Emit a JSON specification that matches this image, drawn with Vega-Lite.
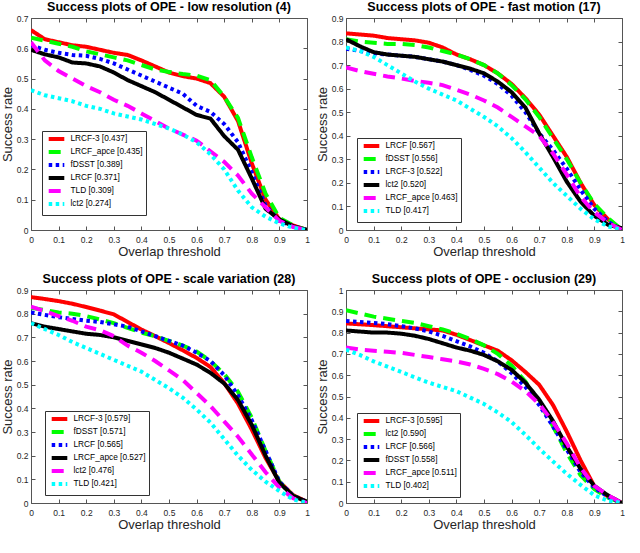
{
"$schema": "https://vega.github.io/schema/vega-lite/v6.json",
"padding": {"left": 0, "top": 0, "right": 0, "bottom": 0},
"columns": 2,
"spacing": {"row": 13, "column": 5},
"datasets": {
"p1": [
{"s":"LRCF-3 [0.437]","x":0,"y":0.66},{"s":"LRCF-3 [0.437]","x":0.05,"y":0.63},{"s":"LRCF-3 [0.437]","x":0.1,"y":0.62},{"s":"LRCF-3 [0.437]","x":0.15,"y":0.61},{"s":"LRCF-3 [0.437]","x":0.2,"y":0.605},{"s":"LRCF-3 [0.437]","x":0.25,"y":0.595},{"s":"LRCF-3 [0.437]","x":0.3,"y":0.585},{"s":"LRCF-3 [0.437]","x":0.35,"y":0.578},{"s":"LRCF-3 [0.437]","x":0.4,"y":0.56},{"s":"LRCF-3 [0.437]","x":0.45,"y":0.54},{"s":"LRCF-3 [0.437]","x":0.5,"y":0.52},{"s":"LRCF-3 [0.437]","x":0.55,"y":0.508},{"s":"LRCF-3 [0.437]","x":0.6,"y":0.5},{"s":"LRCF-3 [0.437]","x":0.65,"y":0.485},{"s":"LRCF-3 [0.437]","x":0.7,"y":0.44},{"s":"LRCF-3 [0.437]","x":0.75,"y":0.36},{"s":"LRCF-3 [0.437]","x":0.8,"y":0.22},{"s":"LRCF-3 [0.437]","x":0.85,"y":0.1},{"s":"LRCF-3 [0.437]","x":0.9,"y":0.035},{"s":"LRCF-3 [0.437]","x":0.95,"y":0.015},{"s":"LRCF-3 [0.437]","x":1,"y":0},
{"s":"LRCF_apce [0.435]","x":0,"y":0.635},{"s":"LRCF_apce [0.435]","x":0.05,"y":0.625},{"s":"LRCF_apce [0.435]","x":0.1,"y":0.615},{"s":"LRCF_apce [0.435]","x":0.15,"y":0.605},{"s":"LRCF_apce [0.435]","x":0.2,"y":0.59},{"s":"LRCF_apce [0.435]","x":0.25,"y":0.58},{"s":"LRCF_apce [0.435]","x":0.3,"y":0.57},{"s":"LRCF_apce [0.435]","x":0.35,"y":0.56},{"s":"LRCF_apce [0.435]","x":0.4,"y":0.545},{"s":"LRCF_apce [0.435]","x":0.45,"y":0.53},{"s":"LRCF_apce [0.435]","x":0.5,"y":0.522},{"s":"LRCF_apce [0.435]","x":0.55,"y":0.515},{"s":"LRCF_apce [0.435]","x":0.6,"y":0.51},{"s":"LRCF_apce [0.435]","x":0.65,"y":0.495},{"s":"LRCF_apce [0.435]","x":0.7,"y":0.44},{"s":"LRCF_apce [0.435]","x":0.75,"y":0.37},{"s":"LRCF_apce [0.435]","x":0.8,"y":0.24},{"s":"LRCF_apce [0.435]","x":0.85,"y":0.12},{"s":"LRCF_apce [0.435]","x":0.9,"y":0.04},{"s":"LRCF_apce [0.435]","x":0.95,"y":0.015},{"s":"LRCF_apce [0.435]","x":1,"y":0},
{"s":"fDSST [0.389]","x":0,"y":0.61},{"s":"fDSST [0.389]","x":0.05,"y":0.595},{"s":"fDSST [0.389]","x":0.1,"y":0.585},{"s":"fDSST [0.389]","x":0.15,"y":0.578},{"s":"fDSST [0.389]","x":0.2,"y":0.575},{"s":"fDSST [0.389]","x":0.25,"y":0.565},{"s":"fDSST [0.389]","x":0.3,"y":0.55},{"s":"fDSST [0.389]","x":0.35,"y":0.53},{"s":"fDSST [0.389]","x":0.4,"y":0.51},{"s":"fDSST [0.389]","x":0.45,"y":0.49},{"s":"fDSST [0.389]","x":0.5,"y":0.47},{"s":"fDSST [0.389]","x":0.55,"y":0.45},{"s":"fDSST [0.389]","x":0.6,"y":0.41},{"s":"fDSST [0.389]","x":0.65,"y":0.39},{"s":"fDSST [0.389]","x":0.7,"y":0.35},{"s":"fDSST [0.389]","x":0.75,"y":0.29},{"s":"fDSST [0.389]","x":0.8,"y":0.19},{"s":"fDSST [0.389]","x":0.85,"y":0.08},{"s":"fDSST [0.389]","x":0.9,"y":0.03},{"s":"fDSST [0.389]","x":0.95,"y":0.012},{"s":"fDSST [0.389]","x":1,"y":0},
{"s":"LRCF [0.371]","x":0,"y":0.595},{"s":"LRCF [0.371]","x":0.05,"y":0.58},{"s":"LRCF [0.371]","x":0.1,"y":0.57},{"s":"LRCF [0.371]","x":0.15,"y":0.553},{"s":"LRCF [0.371]","x":0.2,"y":0.55},{"s":"LRCF [0.371]","x":0.25,"y":0.54},{"s":"LRCF [0.371]","x":0.3,"y":0.52},{"s":"LRCF [0.371]","x":0.35,"y":0.495},{"s":"LRCF [0.371]","x":0.4,"y":0.475},{"s":"LRCF [0.371]","x":0.45,"y":0.455},{"s":"LRCF [0.371]","x":0.5,"y":0.43},{"s":"LRCF [0.371]","x":0.55,"y":0.405},{"s":"LRCF [0.371]","x":0.6,"y":0.38},{"s":"LRCF [0.371]","x":0.65,"y":0.368},{"s":"LRCF [0.371]","x":0.7,"y":0.31},{"s":"LRCF [0.371]","x":0.75,"y":0.265},{"s":"LRCF [0.371]","x":0.8,"y":0.17},{"s":"LRCF [0.371]","x":0.85,"y":0.07},{"s":"LRCF [0.371]","x":0.9,"y":0.035},{"s":"LRCF [0.371]","x":0.95,"y":0.012},{"s":"LRCF [0.371]","x":1,"y":0},
{"s":"TLD [0.309]","x":0,"y":0.62},{"s":"TLD [0.309]","x":0.05,"y":0.56},{"s":"TLD [0.309]","x":0.1,"y":0.525},{"s":"TLD [0.309]","x":0.15,"y":0.5},{"s":"TLD [0.309]","x":0.2,"y":0.475},{"s":"TLD [0.309]","x":0.25,"y":0.455},{"s":"TLD [0.309]","x":0.3,"y":0.43},{"s":"TLD [0.309]","x":0.35,"y":0.41},{"s":"TLD [0.309]","x":0.4,"y":0.385},{"s":"TLD [0.309]","x":0.45,"y":0.36},{"s":"TLD [0.309]","x":0.5,"y":0.335},{"s":"TLD [0.309]","x":0.55,"y":0.315},{"s":"TLD [0.309]","x":0.6,"y":0.295},{"s":"TLD [0.309]","x":0.65,"y":0.26},{"s":"TLD [0.309]","x":0.7,"y":0.225},{"s":"TLD [0.309]","x":0.75,"y":0.18},{"s":"TLD [0.309]","x":0.8,"y":0.12},{"s":"TLD [0.309]","x":0.85,"y":0.075},{"s":"TLD [0.309]","x":0.9,"y":0.03},{"s":"TLD [0.309]","x":0.95,"y":0.01},{"s":"TLD [0.309]","x":1,"y":0},
{"s":"lct2 [0.274]","x":0,"y":0.462},{"s":"lct2 [0.274]","x":0.05,"y":0.445},{"s":"lct2 [0.274]","x":0.1,"y":0.435},{"s":"lct2 [0.274]","x":0.15,"y":0.425},{"s":"lct2 [0.274]","x":0.2,"y":0.41},{"s":"lct2 [0.274]","x":0.25,"y":0.4},{"s":"lct2 [0.274]","x":0.3,"y":0.385},{"s":"lct2 [0.274]","x":0.35,"y":0.375},{"s":"lct2 [0.274]","x":0.4,"y":0.365},{"s":"lct2 [0.274]","x":0.45,"y":0.35},{"s":"lct2 [0.274]","x":0.5,"y":0.335},{"s":"lct2 [0.274]","x":0.55,"y":0.315},{"s":"lct2 [0.274]","x":0.6,"y":0.29},{"s":"lct2 [0.274]","x":0.65,"y":0.25},{"s":"lct2 [0.274]","x":0.7,"y":0.2},{"s":"lct2 [0.274]","x":0.75,"y":0.13},{"s":"lct2 [0.274]","x":0.8,"y":0.075},{"s":"lct2 [0.274]","x":0.85,"y":0.044},{"s":"lct2 [0.274]","x":0.9,"y":0.022},{"s":"lct2 [0.274]","x":0.95,"y":0.007},{"s":"lct2 [0.274]","x":1,"y":0}
],
"p2": [
{"s":"LRCF [0.567]","x":0,"y":0.835},{"s":"LRCF [0.567]","x":0.05,"y":0.83},{"s":"LRCF [0.567]","x":0.1,"y":0.825},{"s":"LRCF [0.567]","x":0.15,"y":0.815},{"s":"LRCF [0.567]","x":0.2,"y":0.81},{"s":"LRCF [0.567]","x":0.25,"y":0.805},{"s":"LRCF [0.567]","x":0.3,"y":0.795},{"s":"LRCF [0.567]","x":0.35,"y":0.775},{"s":"LRCF [0.567]","x":0.4,"y":0.745},{"s":"LRCF [0.567]","x":0.45,"y":0.725},{"s":"LRCF [0.567]","x":0.5,"y":0.7},{"s":"LRCF [0.567]","x":0.55,"y":0.665},{"s":"LRCF [0.567]","x":0.6,"y":0.62},{"s":"LRCF [0.567]","x":0.65,"y":0.56},{"s":"LRCF [0.567]","x":0.7,"y":0.49},{"s":"LRCF [0.567]","x":0.75,"y":0.4},{"s":"LRCF [0.567]","x":0.8,"y":0.31},{"s":"LRCF [0.567]","x":0.85,"y":0.2},{"s":"LRCF [0.567]","x":0.9,"y":0.105},{"s":"LRCF [0.567]","x":0.95,"y":0.045},{"s":"LRCF [0.567]","x":1,"y":0},
{"s":"fDSST [0.556]","x":0,"y":0.81},{"s":"fDSST [0.556]","x":0.05,"y":0.8},{"s":"fDSST [0.556]","x":0.1,"y":0.795},{"s":"fDSST [0.556]","x":0.15,"y":0.79},{"s":"fDSST [0.556]","x":0.2,"y":0.79},{"s":"fDSST [0.556]","x":0.25,"y":0.785},{"s":"fDSST [0.556]","x":0.3,"y":0.775},{"s":"fDSST [0.556]","x":0.35,"y":0.76},{"s":"fDSST [0.556]","x":0.4,"y":0.745},{"s":"fDSST [0.556]","x":0.45,"y":0.725},{"s":"fDSST [0.556]","x":0.5,"y":0.7},{"s":"fDSST [0.556]","x":0.55,"y":0.665},{"s":"fDSST [0.556]","x":0.6,"y":0.615},{"s":"fDSST [0.556]","x":0.65,"y":0.555},{"s":"fDSST [0.556]","x":0.7,"y":0.48},{"s":"fDSST [0.556]","x":0.75,"y":0.39},{"s":"fDSST [0.556]","x":0.8,"y":0.3},{"s":"fDSST [0.556]","x":0.85,"y":0.2},{"s":"fDSST [0.556]","x":0.9,"y":0.11},{"s":"fDSST [0.556]","x":0.95,"y":0.05},{"s":"fDSST [0.556]","x":1,"y":0},
{"s":"LRCF-3 [0.522]","x":0,"y":0.77},{"s":"LRCF-3 [0.522]","x":0.05,"y":0.76},{"s":"LRCF-3 [0.522]","x":0.1,"y":0.75},{"s":"LRCF-3 [0.522]","x":0.15,"y":0.745},{"s":"LRCF-3 [0.522]","x":0.2,"y":0.74},{"s":"LRCF-3 [0.522]","x":0.25,"y":0.735},{"s":"LRCF-3 [0.522]","x":0.3,"y":0.725},{"s":"LRCF-3 [0.522]","x":0.35,"y":0.715},{"s":"LRCF-3 [0.522]","x":0.4,"y":0.7},{"s":"LRCF-3 [0.522]","x":0.45,"y":0.68},{"s":"LRCF-3 [0.522]","x":0.5,"y":0.655},{"s":"LRCF-3 [0.522]","x":0.55,"y":0.62},{"s":"LRCF-3 [0.522]","x":0.6,"y":0.57},{"s":"LRCF-3 [0.522]","x":0.65,"y":0.5},{"s":"LRCF-3 [0.522]","x":0.7,"y":0.41},{"s":"LRCF-3 [0.522]","x":0.75,"y":0.34},{"s":"LRCF-3 [0.522]","x":0.8,"y":0.26},{"s":"LRCF-3 [0.522]","x":0.85,"y":0.17},{"s":"LRCF-3 [0.522]","x":0.9,"y":0.09},{"s":"LRCF-3 [0.522]","x":0.95,"y":0.035},{"s":"LRCF-3 [0.522]","x":1,"y":0},
{"s":"lct2 [0.520]","x":0,"y":0.81},{"s":"lct2 [0.520]","x":0.05,"y":0.78},{"s":"lct2 [0.520]","x":0.1,"y":0.755},{"s":"lct2 [0.520]","x":0.15,"y":0.745},{"s":"lct2 [0.520]","x":0.2,"y":0.74},{"s":"lct2 [0.520]","x":0.25,"y":0.735},{"s":"lct2 [0.520]","x":0.3,"y":0.725},{"s":"lct2 [0.520]","x":0.35,"y":0.715},{"s":"lct2 [0.520]","x":0.4,"y":0.7},{"s":"lct2 [0.520]","x":0.45,"y":0.685},{"s":"lct2 [0.520]","x":0.5,"y":0.665},{"s":"lct2 [0.520]","x":0.55,"y":0.63},{"s":"lct2 [0.520]","x":0.6,"y":0.585},{"s":"lct2 [0.520]","x":0.65,"y":0.52},{"s":"lct2 [0.520]","x":0.7,"y":0.41},{"s":"lct2 [0.520]","x":0.75,"y":0.31},{"s":"lct2 [0.520]","x":0.8,"y":0.205},{"s":"lct2 [0.520]","x":0.85,"y":0.12},{"s":"lct2 [0.520]","x":0.9,"y":0.06},{"s":"lct2 [0.520]","x":0.95,"y":0.022},{"s":"lct2 [0.520]","x":1,"y":0.008},
{"s":"LRCF_apce [0.463]","x":0,"y":0.69},{"s":"LRCF_apce [0.463]","x":0.05,"y":0.675},{"s":"LRCF_apce [0.463]","x":0.1,"y":0.663},{"s":"LRCF_apce [0.463]","x":0.15,"y":0.652},{"s":"LRCF_apce [0.463]","x":0.2,"y":0.643},{"s":"LRCF_apce [0.463]","x":0.25,"y":0.633},{"s":"LRCF_apce [0.463]","x":0.3,"y":0.625},{"s":"LRCF_apce [0.463]","x":0.35,"y":0.615},{"s":"LRCF_apce [0.463]","x":0.4,"y":0.595},{"s":"LRCF_apce [0.463]","x":0.45,"y":0.575},{"s":"LRCF_apce [0.463]","x":0.5,"y":0.55},{"s":"LRCF_apce [0.463]","x":0.55,"y":0.52},{"s":"LRCF_apce [0.463]","x":0.6,"y":0.48},{"s":"LRCF_apce [0.463]","x":0.65,"y":0.44},{"s":"LRCF_apce [0.463]","x":0.7,"y":0.4},{"s":"LRCF_apce [0.463]","x":0.75,"y":0.325},{"s":"LRCF_apce [0.463]","x":0.8,"y":0.235},{"s":"LRCF_apce [0.463]","x":0.85,"y":0.14},{"s":"LRCF_apce [0.463]","x":0.9,"y":0.075},{"s":"LRCF_apce [0.463]","x":0.95,"y":0.03},{"s":"LRCF_apce [0.463]","x":1,"y":0},
{"s":"TLD [0.417]","x":0,"y":0.775},{"s":"TLD [0.417]","x":0.05,"y":0.76},{"s":"TLD [0.417]","x":0.1,"y":0.735},{"s":"TLD [0.417]","x":0.15,"y":0.7},{"s":"TLD [0.417]","x":0.2,"y":0.665},{"s":"TLD [0.417]","x":0.25,"y":0.63},{"s":"TLD [0.417]","x":0.3,"y":0.6},{"s":"TLD [0.417]","x":0.35,"y":0.575},{"s":"TLD [0.417]","x":0.4,"y":0.55},{"s":"TLD [0.417]","x":0.45,"y":0.515},{"s":"TLD [0.417]","x":0.5,"y":0.48},{"s":"TLD [0.417]","x":0.55,"y":0.44},{"s":"TLD [0.417]","x":0.6,"y":0.39},{"s":"TLD [0.417]","x":0.65,"y":0.33},{"s":"TLD [0.417]","x":0.7,"y":0.265},{"s":"TLD [0.417]","x":0.75,"y":0.2},{"s":"TLD [0.417]","x":0.8,"y":0.145},{"s":"TLD [0.417]","x":0.85,"y":0.09},{"s":"TLD [0.417]","x":0.9,"y":0.045},{"s":"TLD [0.417]","x":0.95,"y":0.015},{"s":"TLD [0.417]","x":1,"y":0}
],
"p3": [
{"s":"LRCF-3 [0.579]","x":0,"y":0.87},{"s":"LRCF-3 [0.579]","x":0.05,"y":0.862},{"s":"LRCF-3 [0.579]","x":0.1,"y":0.853},{"s":"LRCF-3 [0.579]","x":0.15,"y":0.842},{"s":"LRCF-3 [0.579]","x":0.2,"y":0.828},{"s":"LRCF-3 [0.579]","x":0.25,"y":0.813},{"s":"LRCF-3 [0.579]","x":0.3,"y":0.797},{"s":"LRCF-3 [0.579]","x":0.35,"y":0.765},{"s":"LRCF-3 [0.579]","x":0.4,"y":0.733},{"s":"LRCF-3 [0.579]","x":0.45,"y":0.705},{"s":"LRCF-3 [0.579]","x":0.5,"y":0.676},{"s":"LRCF-3 [0.579]","x":0.55,"y":0.645},{"s":"LRCF-3 [0.579]","x":0.6,"y":0.613},{"s":"LRCF-3 [0.579]","x":0.65,"y":0.575},{"s":"LRCF-3 [0.579]","x":0.7,"y":0.507},{"s":"LRCF-3 [0.579]","x":0.75,"y":0.42},{"s":"LRCF-3 [0.579]","x":0.8,"y":0.31},{"s":"LRCF-3 [0.579]","x":0.85,"y":0.19},{"s":"LRCF-3 [0.579]","x":0.9,"y":0.09},{"s":"LRCF-3 [0.579]","x":0.95,"y":0.033},{"s":"LRCF-3 [0.579]","x":1,"y":0.005},
{"s":"fDSST [0.571]","x":0,"y":0.825},{"s":"fDSST [0.571]","x":0.05,"y":0.815},{"s":"fDSST [0.571]","x":0.1,"y":0.805},{"s":"fDSST [0.571]","x":0.15,"y":0.8},{"s":"fDSST [0.571]","x":0.2,"y":0.79},{"s":"fDSST [0.571]","x":0.25,"y":0.775},{"s":"fDSST [0.571]","x":0.3,"y":0.76},{"s":"fDSST [0.571]","x":0.35,"y":0.74},{"s":"fDSST [0.571]","x":0.4,"y":0.72},{"s":"fDSST [0.571]","x":0.45,"y":0.705},{"s":"fDSST [0.571]","x":0.5,"y":0.685},{"s":"fDSST [0.571]","x":0.55,"y":0.665},{"s":"fDSST [0.571]","x":0.6,"y":0.64},{"s":"fDSST [0.571]","x":0.65,"y":0.6},{"s":"fDSST [0.571]","x":0.7,"y":0.545},{"s":"fDSST [0.571]","x":0.75,"y":0.47},{"s":"fDSST [0.571]","x":0.8,"y":0.36},{"s":"fDSST [0.571]","x":0.85,"y":0.22},{"s":"fDSST [0.571]","x":0.9,"y":0.09},{"s":"fDSST [0.571]","x":0.95,"y":0.03},{"s":"fDSST [0.571]","x":1,"y":0.005},
{"s":"LRCF [0.565]","x":0,"y":0.805},{"s":"LRCF [0.565]","x":0.05,"y":0.795},{"s":"LRCF [0.565]","x":0.1,"y":0.785},{"s":"LRCF [0.565]","x":0.15,"y":0.778},{"s":"LRCF [0.565]","x":0.2,"y":0.77},{"s":"LRCF [0.565]","x":0.25,"y":0.765},{"s":"LRCF [0.565]","x":0.3,"y":0.755},{"s":"LRCF [0.565]","x":0.35,"y":0.745},{"s":"LRCF [0.565]","x":0.4,"y":0.725},{"s":"LRCF [0.565]","x":0.45,"y":0.705},{"s":"LRCF [0.565]","x":0.5,"y":0.685},{"s":"LRCF [0.565]","x":0.55,"y":0.665},{"s":"LRCF [0.565]","x":0.6,"y":0.635},{"s":"LRCF [0.565]","x":0.65,"y":0.6},{"s":"LRCF [0.565]","x":0.7,"y":0.54},{"s":"LRCF [0.565]","x":0.75,"y":0.455},{"s":"LRCF [0.565]","x":0.8,"y":0.35},{"s":"LRCF [0.565]","x":0.85,"y":0.22},{"s":"LRCF [0.565]","x":0.9,"y":0.09},{"s":"LRCF [0.565]","x":0.95,"y":0.03},{"s":"LRCF [0.565]","x":1,"y":0.005},
{"s":"LRCF_apce [0.527]","x":0,"y":0.76},{"s":"LRCF_apce [0.527]","x":0.05,"y":0.745},{"s":"LRCF_apce [0.527]","x":0.1,"y":0.735},{"s":"LRCF_apce [0.527]","x":0.15,"y":0.725},{"s":"LRCF_apce [0.527]","x":0.2,"y":0.715},{"s":"LRCF_apce [0.527]","x":0.25,"y":0.71},{"s":"LRCF_apce [0.527]","x":0.3,"y":0.7},{"s":"LRCF_apce [0.527]","x":0.35,"y":0.685},{"s":"LRCF_apce [0.527]","x":0.4,"y":0.67},{"s":"LRCF_apce [0.527]","x":0.45,"y":0.655},{"s":"LRCF_apce [0.527]","x":0.5,"y":0.635},{"s":"LRCF_apce [0.527]","x":0.55,"y":0.61},{"s":"LRCF_apce [0.527]","x":0.6,"y":0.585},{"s":"LRCF_apce [0.527]","x":0.65,"y":0.55},{"s":"LRCF_apce [0.527]","x":0.7,"y":0.505},{"s":"LRCF_apce [0.527]","x":0.75,"y":0.435},{"s":"LRCF_apce [0.527]","x":0.8,"y":0.33},{"s":"LRCF_apce [0.527]","x":0.85,"y":0.2},{"s":"LRCF_apce [0.527]","x":0.9,"y":0.085},{"s":"LRCF_apce [0.527]","x":0.95,"y":0.03},{"s":"LRCF_apce [0.527]","x":1,"y":0.005},
{"s":"lct2 [0.476]","x":0,"y":0.83},{"s":"lct2 [0.476]","x":0.05,"y":0.81},{"s":"lct2 [0.476]","x":0.1,"y":0.79},{"s":"lct2 [0.476]","x":0.15,"y":0.77},{"s":"lct2 [0.476]","x":0.2,"y":0.745},{"s":"lct2 [0.476]","x":0.25,"y":0.73},{"s":"lct2 [0.476]","x":0.3,"y":0.705},{"s":"lct2 [0.476]","x":0.35,"y":0.665},{"s":"lct2 [0.476]","x":0.4,"y":0.635},{"s":"lct2 [0.476]","x":0.45,"y":0.6},{"s":"lct2 [0.476]","x":0.5,"y":0.56},{"s":"lct2 [0.476]","x":0.55,"y":0.52},{"s":"lct2 [0.476]","x":0.6,"y":0.465},{"s":"lct2 [0.476]","x":0.65,"y":0.41},{"s":"lct2 [0.476]","x":0.7,"y":0.345},{"s":"lct2 [0.476]","x":0.75,"y":0.28},{"s":"lct2 [0.476]","x":0.8,"y":0.205},{"s":"lct2 [0.476]","x":0.85,"y":0.13},{"s":"lct2 [0.476]","x":0.9,"y":0.065},{"s":"lct2 [0.476]","x":0.95,"y":0.02},{"s":"lct2 [0.476]","x":1,"y":0},
{"s":"TLD [0.421]","x":0,"y":0.76},{"s":"TLD [0.421]","x":0.05,"y":0.735},{"s":"TLD [0.421]","x":0.1,"y":0.71},{"s":"TLD [0.421]","x":0.15,"y":0.68},{"s":"TLD [0.421]","x":0.2,"y":0.655},{"s":"TLD [0.421]","x":0.25,"y":0.63},{"s":"TLD [0.421]","x":0.3,"y":0.605},{"s":"TLD [0.421]","x":0.35,"y":0.58},{"s":"TLD [0.421]","x":0.4,"y":0.555},{"s":"TLD [0.421]","x":0.45,"y":0.52},{"s":"TLD [0.421]","x":0.5,"y":0.485},{"s":"TLD [0.421]","x":0.55,"y":0.445},{"s":"TLD [0.421]","x":0.6,"y":0.395},{"s":"TLD [0.421]","x":0.65,"y":0.34},{"s":"TLD [0.421]","x":0.7,"y":0.27},{"s":"TLD [0.421]","x":0.75,"y":0.2},{"s":"TLD [0.421]","x":0.8,"y":0.14},{"s":"TLD [0.421]","x":0.85,"y":0.09},{"s":"TLD [0.421]","x":0.9,"y":0.05},{"s":"TLD [0.421]","x":0.95,"y":0.015},{"s":"TLD [0.421]","x":1,"y":0}
],
"p4": [
{"s":"LRCF-3 [0.595]","x":0,"y":0.843},{"s":"LRCF-3 [0.595]","x":0.05,"y":0.839},{"s":"LRCF-3 [0.595]","x":0.1,"y":0.835},{"s":"LRCF-3 [0.595]","x":0.15,"y":0.83},{"s":"LRCF-3 [0.595]","x":0.2,"y":0.825},{"s":"LRCF-3 [0.595]","x":0.25,"y":0.82},{"s":"LRCF-3 [0.595]","x":0.3,"y":0.815},{"s":"LRCF-3 [0.595]","x":0.35,"y":0.81},{"s":"LRCF-3 [0.595]","x":0.4,"y":0.79},{"s":"LRCF-3 [0.595]","x":0.45,"y":0.765},{"s":"LRCF-3 [0.595]","x":0.5,"y":0.74},{"s":"LRCF-3 [0.595]","x":0.55,"y":0.715},{"s":"LRCF-3 [0.595]","x":0.6,"y":0.67},{"s":"LRCF-3 [0.595]","x":0.65,"y":0.615},{"s":"LRCF-3 [0.595]","x":0.7,"y":0.555},{"s":"LRCF-3 [0.595]","x":0.75,"y":0.46},{"s":"LRCF-3 [0.595]","x":0.8,"y":0.335},{"s":"LRCF-3 [0.595]","x":0.85,"y":0.2},{"s":"LRCF-3 [0.595]","x":0.9,"y":0.078},{"s":"LRCF-3 [0.595]","x":0.95,"y":0.03},{"s":"LRCF-3 [0.595]","x":1,"y":0},
{"s":"lct2 [0.590]","x":0,"y":0.905},{"s":"lct2 [0.590]","x":0.05,"y":0.89},{"s":"lct2 [0.590]","x":0.1,"y":0.875},{"s":"lct2 [0.590]","x":0.15,"y":0.865},{"s":"lct2 [0.590]","x":0.2,"y":0.855},{"s":"lct2 [0.590]","x":0.25,"y":0.845},{"s":"lct2 [0.590]","x":0.3,"y":0.83},{"s":"lct2 [0.590]","x":0.35,"y":0.815},{"s":"lct2 [0.590]","x":0.4,"y":0.795},{"s":"lct2 [0.590]","x":0.45,"y":0.77},{"s":"lct2 [0.590]","x":0.5,"y":0.74},{"s":"lct2 [0.590]","x":0.55,"y":0.7},{"s":"lct2 [0.590]","x":0.6,"y":0.645},{"s":"lct2 [0.590]","x":0.65,"y":0.57},{"s":"lct2 [0.590]","x":0.7,"y":0.475},{"s":"lct2 [0.590]","x":0.75,"y":0.36},{"s":"lct2 [0.590]","x":0.8,"y":0.235},{"s":"lct2 [0.590]","x":0.85,"y":0.13},{"s":"lct2 [0.590]","x":0.9,"y":0.065},{"s":"lct2 [0.590]","x":0.95,"y":0.025},{"s":"lct2 [0.590]","x":1,"y":0},
{"s":"LRCF [0.566]","x":0,"y":0.855},{"s":"LRCF [0.566]","x":0.05,"y":0.85},{"s":"LRCF [0.566]","x":0.1,"y":0.845},{"s":"LRCF [0.566]","x":0.15,"y":0.84},{"s":"LRCF [0.566]","x":0.2,"y":0.83},{"s":"LRCF [0.566]","x":0.25,"y":0.82},{"s":"LRCF [0.566]","x":0.3,"y":0.805},{"s":"LRCF [0.566]","x":0.35,"y":0.785},{"s":"LRCF [0.566]","x":0.4,"y":0.76},{"s":"LRCF [0.566]","x":0.45,"y":0.735},{"s":"LRCF [0.566]","x":0.5,"y":0.705},{"s":"LRCF [0.566]","x":0.55,"y":0.665},{"s":"LRCF [0.566]","x":0.6,"y":0.61},{"s":"LRCF [0.566]","x":0.65,"y":0.545},{"s":"LRCF [0.566]","x":0.7,"y":0.46},{"s":"LRCF [0.566]","x":0.75,"y":0.36},{"s":"LRCF [0.566]","x":0.8,"y":0.25},{"s":"LRCF [0.566]","x":0.85,"y":0.145},{"s":"LRCF [0.566]","x":0.9,"y":0.072},{"s":"LRCF [0.566]","x":0.95,"y":0.028},{"s":"LRCF [0.566]","x":1,"y":0},
{"s":"fDSST [0.558]","x":0,"y":0.81},{"s":"fDSST [0.558]","x":0.05,"y":0.805},{"s":"fDSST [0.558]","x":0.1,"y":0.8},{"s":"fDSST [0.558]","x":0.15,"y":0.8},{"s":"fDSST [0.558]","x":0.2,"y":0.795},{"s":"fDSST [0.558]","x":0.25,"y":0.785},{"s":"fDSST [0.558]","x":0.3,"y":0.77},{"s":"fDSST [0.558]","x":0.35,"y":0.75},{"s":"fDSST [0.558]","x":0.4,"y":0.73},{"s":"fDSST [0.558]","x":0.45,"y":0.715},{"s":"fDSST [0.558]","x":0.5,"y":0.695},{"s":"fDSST [0.558]","x":0.55,"y":0.665},{"s":"fDSST [0.558]","x":0.6,"y":0.625},{"s":"fDSST [0.558]","x":0.65,"y":0.565},{"s":"fDSST [0.558]","x":0.7,"y":0.485},{"s":"fDSST [0.558]","x":0.75,"y":0.385},{"s":"fDSST [0.558]","x":0.8,"y":0.265},{"s":"fDSST [0.558]","x":0.85,"y":0.16},{"s":"fDSST [0.558]","x":0.9,"y":0.08},{"s":"fDSST [0.558]","x":0.95,"y":0.035},{"s":"fDSST [0.558]","x":1,"y":0},
{"s":"LRCF_apce [0.511]","x":0,"y":0.73},{"s":"LRCF_apce [0.511]","x":0.05,"y":0.72},{"s":"LRCF_apce [0.511]","x":0.1,"y":0.715},{"s":"LRCF_apce [0.511]","x":0.15,"y":0.71},{"s":"LRCF_apce [0.511]","x":0.2,"y":0.705},{"s":"LRCF_apce [0.511]","x":0.25,"y":0.695},{"s":"LRCF_apce [0.511]","x":0.3,"y":0.685},{"s":"LRCF_apce [0.511]","x":0.35,"y":0.675},{"s":"LRCF_apce [0.511]","x":0.4,"y":0.665},{"s":"LRCF_apce [0.511]","x":0.45,"y":0.65},{"s":"LRCF_apce [0.511]","x":0.5,"y":0.63},{"s":"LRCF_apce [0.511]","x":0.55,"y":0.605},{"s":"LRCF_apce [0.511]","x":0.6,"y":0.57},{"s":"LRCF_apce [0.511]","x":0.65,"y":0.525},{"s":"LRCF_apce [0.511]","x":0.7,"y":0.465},{"s":"LRCF_apce [0.511]","x":0.75,"y":0.38},{"s":"LRCF_apce [0.511]","x":0.8,"y":0.28},{"s":"LRCF_apce [0.511]","x":0.85,"y":0.165},{"s":"LRCF_apce [0.511]","x":0.9,"y":0.08},{"s":"LRCF_apce [0.511]","x":0.95,"y":0.035},{"s":"LRCF_apce [0.511]","x":1,"y":0},
{"s":"TLD [0.402]","x":0,"y":0.72},{"s":"TLD [0.402]","x":0.05,"y":0.695},{"s":"TLD [0.402]","x":0.1,"y":0.665},{"s":"TLD [0.402]","x":0.15,"y":0.64},{"s":"TLD [0.402]","x":0.2,"y":0.615},{"s":"TLD [0.402]","x":0.25,"y":0.59},{"s":"TLD [0.402]","x":0.3,"y":0.565},{"s":"TLD [0.402]","x":0.35,"y":0.545},{"s":"TLD [0.402]","x":0.4,"y":0.525},{"s":"TLD [0.402]","x":0.45,"y":0.495},{"s":"TLD [0.402]","x":0.5,"y":0.465},{"s":"TLD [0.402]","x":0.55,"y":0.425},{"s":"TLD [0.402]","x":0.6,"y":0.38},{"s":"TLD [0.402]","x":0.65,"y":0.32},{"s":"TLD [0.402]","x":0.7,"y":0.255},{"s":"TLD [0.402]","x":0.75,"y":0.195},{"s":"TLD [0.402]","x":0.8,"y":0.137},{"s":"TLD [0.402]","x":0.85,"y":0.085},{"s":"TLD [0.402]","x":0.9,"y":0.036},{"s":"TLD [0.402]","x":0.95,"y":0.01},{"s":"TLD [0.402]","x":1,"y":0}
]
},
"concat": [
{
"width": 276, "height": 212,
"title": "Success plots of OPE - low resolution (4)",
"data": {"name": "p1"},
"resolve": {"axis": {"x": "independent", "y": "independent"}},
"layer": [
{
"mark": {"type": "line", "strokeWidth": 4, "clip": true},
"encoding": {
"x": {"field": "x", "type": "quantitative", "scale": {"domain": [0, 1], "nice": false}, "axis": {"title": "Overlap threshold", "values": [0,0.1,0.2,0.3,0.4,0.5,0.6,0.7,0.8,0.9,1]}},
"y": {"field": "y", "type": "quantitative", "scale": {"domain": [0, 0.7], "nice": false}, "axis": {"title": "Success rate", "values": [0,0.1,0.2,0.3,0.4,0.5,0.6,0.7]}},
"color": {"field": "s", "type": "nominal", "scale": {"domain": ["LRCF-3 [0.437]","LRCF_apce [0.435]","fDSST [0.389]","LRCF [0.371]","TLD [0.309]","lct2 [0.274]"], "range": ["#ff0000","#00ff00","#0000ff","#000000","#ff00ff","#00ffff"]}, "legend": {"title": null, "orient": "none", "legendX": 11, "legendY": 113}},
"strokeDash": {"field": "s", "type": "nominal", "scale": {"domain": ["LRCF-3 [0.437]","LRCF_apce [0.435]","fDSST [0.389]","LRCF [0.371]","TLD [0.309]","lct2 [0.274]"], "range": [[1,0],[12,7],[3.5,3.5],[1,0],[12,7],[3.5,3.5]]}, "legend": {"title": null, "orient": "none", "legendX": 11, "legendY": 113}}
}
},
{
"mark": {"type": "line", "opacity": 0},
"encoding": {
"x": {"field": "x", "type": "quantitative", "scale": {"domain": [0, 1], "nice": false}, "axis": {"orient": "top", "labels": false, "title": null, "values": [0,0.1,0.2,0.3,0.4,0.5,0.6,0.7,0.8,0.9,1]}},
"y": {"field": "y", "type": "quantitative", "scale": {"domain": [0, 0.7], "nice": false}, "axis": {"orient": "right", "labels": false, "title": null, "values": [0,0.1,0.2,0.3,0.4,0.5,0.6,0.7]}}
}
}
]
},
{
"width": 276, "height": 212,
"title": "Success plots of OPE - fast motion (17)",
"data": {"name": "p2"},
"resolve": {"axis": {"x": "independent", "y": "independent"}},
"layer": [
{
"mark": {"type": "line", "strokeWidth": 4, "clip": true},
"encoding": {
"x": {"field": "x", "type": "quantitative", "scale": {"domain": [0, 1], "nice": false}, "axis": {"title": "Overlap threshold", "values": [0,0.1,0.2,0.3,0.4,0.5,0.6,0.7,0.8,0.9,1]}},
"y": {"field": "y", "type": "quantitative", "scale": {"domain": [0, 0.9], "nice": false}, "axis": {"title": "Success rate", "values": [0,0.1,0.2,0.3,0.4,0.5,0.6,0.7,0.8,0.9]}},
"color": {"field": "s", "type": "nominal", "scale": {"domain": ["LRCF [0.567]","fDSST [0.556]","LRCF-3 [0.522]","lct2 [0.520]","LRCF_apce [0.463]","TLD [0.417]"], "range": ["#ff0000","#00ff00","#0000ff","#000000","#ff00ff","#00ffff"]}, "legend": {"title": null, "orient": "none", "legendX": 11, "legendY": 120}},
"strokeDash": {"field": "s", "type": "nominal", "scale": {"domain": ["LRCF [0.567]","fDSST [0.556]","LRCF-3 [0.522]","lct2 [0.520]","LRCF_apce [0.463]","TLD [0.417]"], "range": [[1,0],[12,7],[3.5,3.5],[1,0],[12,7],[3.5,3.5]]}, "legend": {"title": null, "orient": "none", "legendX": 11, "legendY": 120}}
}
},
{
"mark": {"type": "line", "opacity": 0},
"encoding": {
"x": {"field": "x", "type": "quantitative", "scale": {"domain": [0, 1], "nice": false}, "axis": {"orient": "top", "labels": false, "title": null, "values": [0,0.1,0.2,0.3,0.4,0.5,0.6,0.7,0.8,0.9,1]}},
"y": {"field": "y", "type": "quantitative", "scale": {"domain": [0, 0.9], "nice": false}, "axis": {"orient": "right", "labels": false, "title": null, "values": [0,0.1,0.2,0.3,0.4,0.5,0.6,0.7,0.8,0.9]}}
}
}
]
},
{
"width": 276, "height": 213,
"title": "Success plots of OPE - scale variation (28)",
"data": {"name": "p3"},
"resolve": {"axis": {"x": "independent", "y": "independent"}},
"layer": [
{
"mark": {"type": "line", "strokeWidth": 4, "clip": true},
"encoding": {
"x": {"field": "x", "type": "quantitative", "scale": {"domain": [0, 1], "nice": false}, "axis": {"title": "Overlap threshold", "values": [0,0.1,0.2,0.3,0.4,0.5,0.6,0.7,0.8,0.9,1]}},
"y": {"field": "y", "type": "quantitative", "scale": {"domain": [0, 0.9], "nice": false}, "axis": {"title": "Success rate", "values": [0,0.1,0.2,0.3,0.4,0.5,0.6,0.7,0.8,0.9]}},
"color": {"field": "s", "type": "nominal", "scale": {"domain": ["LRCF-3 [0.579]","fDSST [0.571]","LRCF [0.565]","LRCF_apce [0.527]","lct2 [0.476]","TLD [0.421]"], "range": ["#ff0000","#00ff00","#0000ff","#000000","#ff00ff","#00ffff"]}, "legend": {"title": null, "orient": "none", "legendX": 14, "legendY": 121}},
"strokeDash": {"field": "s", "type": "nominal", "scale": {"domain": ["LRCF-3 [0.579]","fDSST [0.571]","LRCF [0.565]","LRCF_apce [0.527]","lct2 [0.476]","TLD [0.421]"], "range": [[1,0],[12,7],[3.5,3.5],[1,0],[12,7],[3.5,3.5]]}, "legend": {"title": null, "orient": "none", "legendX": 14, "legendY": 121}}
}
},
{
"mark": {"type": "line", "opacity": 0},
"encoding": {
"x": {"field": "x", "type": "quantitative", "scale": {"domain": [0, 1], "nice": false}, "axis": {"orient": "top", "labels": false, "title": null, "values": [0,0.1,0.2,0.3,0.4,0.5,0.6,0.7,0.8,0.9,1]}},
"y": {"field": "y", "type": "quantitative", "scale": {"domain": [0, 0.9], "nice": false}, "axis": {"orient": "right", "labels": false, "title": null, "values": [0,0.1,0.2,0.3,0.4,0.5,0.6,0.7,0.8,0.9]}}
}
}
]
},
{
"width": 276, "height": 213,
"title": "Success plots of OPE - occlusion (29)",
"data": {"name": "p4"},
"resolve": {"axis": {"x": "independent", "y": "independent"}},
"layer": [
{
"mark": {"type": "line", "strokeWidth": 4, "clip": true},
"encoding": {
"x": {"field": "x", "type": "quantitative", "scale": {"domain": [0, 1], "nice": false}, "axis": {"title": "Overlap threshold", "values": [0,0.1,0.2,0.3,0.4,0.5,0.6,0.7,0.8,0.9,1]}},
"y": {"field": "y", "type": "quantitative", "scale": {"domain": [0, 1], "nice": false}, "axis": {"title": "Success rate", "values": [0,0.1,0.2,0.3,0.4,0.5,0.6,0.7,0.8,0.9,1]}},
"color": {"field": "s", "type": "nominal", "scale": {"domain": ["LRCF-3 [0.595]","lct2 [0.590]","LRCF [0.566]","fDSST [0.558]","LRCF_apce [0.511]","TLD [0.402]"], "range": ["#ff0000","#00ff00","#0000ff","#000000","#ff00ff","#00ffff"]}, "legend": {"title": null, "orient": "none", "legendX": 11, "legendY": 123}},
"strokeDash": {"field": "s", "type": "nominal", "scale": {"domain": ["LRCF-3 [0.595]","lct2 [0.590]","LRCF [0.566]","fDSST [0.558]","LRCF_apce [0.511]","TLD [0.402]"], "range": [[1,0],[12,7],[3.5,3.5],[1,0],[12,7],[3.5,3.5]]}, "legend": {"title": null, "orient": "none", "legendX": 11, "legendY": 123}}
}
},
{
"mark": {"type": "line", "opacity": 0},
"encoding": {
"x": {"field": "x", "type": "quantitative", "scale": {"domain": [0, 1], "nice": false}, "axis": {"orient": "top", "labels": false, "title": null, "values": [0,0.1,0.2,0.3,0.4,0.5,0.6,0.7,0.8,0.9,1]}},
"y": {"field": "y", "type": "quantitative", "scale": {"domain": [0, 1], "nice": false}, "axis": {"orient": "right", "labels": false, "title": null, "values": [0,0.1,0.2,0.3,0.4,0.5,0.6,0.7,0.8,0.9,1]}}
}
}
]
}
],
"resolve": {"scale": {"color": "independent", "strokeDash": "independent", "x": "independent", "y": "independent"}, "legend": {"color": "independent", "strokeDash": "independent"}},
"config": {
"font": "Liberation Sans",
"view": {"stroke": "#555555", "strokeWidth": 1},
"axis": {"grid": false, "domain": false, "tickSize": -4, "tickColor": "#555555", "labelFontSize": 8.5, "labelColor": "#262626", "titleFontSize": 13, "titleFontWeight": "normal", "titleColor": "#262626", "titlePadding": 2, "format": "~g", "labelOverlap": false},
"axisX": {"labelPadding": 9, "labelFlush": false},
"axisY": {"labelPadding": 7},
"title": {"fontSize": 12.5, "fontWeight": "bold", "offset": 1, "color": "#000000"},
"legend": {"strokeColor": "#333333", "fillColor": "#ffffff", "padding": 3, "labelFontSize": 8.3, "labelColor": "#000000", "symbolType": "M-2.6,0H2.6", "symbolSize": 36, "symbolStrokeWidth": 4, "symbolOffset": 6.5, "rowPadding": -7, "labelOffset": 9, "labelLimit": 200}
}
}
